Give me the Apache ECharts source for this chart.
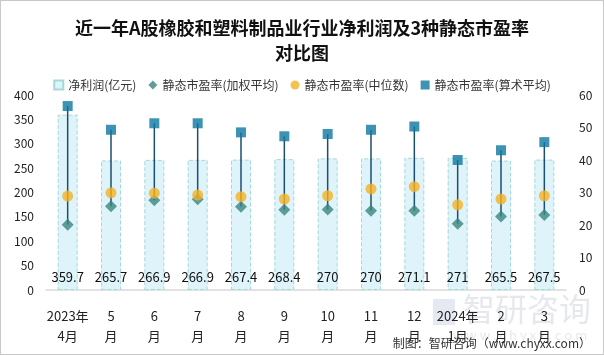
<!DOCTYPE html>
<html><head><meta charset="utf-8">
<script src="https://cdn.jsdelivr.net/npm/echarts@6/dist/echarts.min.js"></script>
<style>html,body{margin:0;padding:0;background:#fff}#c{width:602px;height:353px;border:1px solid #c8c8c8}</style>
</head><body><div id="c"></div>
<script>
var categories = ["2023年\n4月","5\n月","6\n月","7\n月","8\n月","9\n月","10\n月","11\n月","12\n月","2024年\n1月","2\n月","3\n月"];
var netProfit = [359.7,265.7,266.9,266.9,267.4,268.4,270,270,271.1,271,265.5,267.5];
var peWeighted = [20.1,25.8,27.6,27.9,25.6,24.7,24.8,24.4,24.4,20.4,22.6,23.1];
var peMedian = [28.9,29.9,29.8,29.2,28.7,28.0,29.0,31.1,31.8,26.2,28.0,29.0];
var peMean = [56.6,49.3,51.3,51.3,48.5,47.3,48.0,49.3,50.3,40.0,43.0,45.5];

var chart = echarts.init(document.getElementById('c'));
var font = '"Noto Sans CJK SC","Noto Sans",sans-serif';
var rangeData = categories.map(function(c,i){return [i, peWeighted[i], peMean[i]];});
chart.setOption({
  animation:false,
  textStyle:{fontFamily:font},
  title:{text:'近一年A股橡胶和塑料制品业行业净利润及3种静态市盈率\n对比图',left:'center',top:10,
    textStyle:{fontSize:18,fontWeight:'bold',color:'#111',lineHeight:25,fontFamily:font}},
  legend:{top:73,left:'center',itemGap:12,itemWidth:9,itemHeight:9,
    textStyle:{fontSize:12,color:'#333',fontFamily:font},
    data:[{name:'净利润(亿元)',icon:'rect',itemStyle:{borderType:'solid'}},{name:'静态市盈率(加权平均)',icon:'diamond'},{name:'静态市盈率(中位数)',icon:'circle'},{name:'静态市盈率(算术平均)',icon:'rect'}]},
  grid:{left:45,right:37,top:94,bottom:64},
  xAxis:{type:'category',data:categories,axisTick:{show:false},
    axisLine:{lineStyle:{color:'#d9d9d9',width:1.5}},
    axisLabel:{interval:0,fontSize:13,color:'#222',lineHeight:20,margin:16}},
  yAxis:[
    {type:'value',min:0,max:400,interval:50,splitLine:{show:false},axisLine:{show:false},axisTick:{show:false},
      axisLabel:{fontSize:12,color:'#222',margin:12}},
    {type:'value',min:0,max:60,interval:10,splitLine:{show:false},axisLine:{show:false},axisTick:{show:false},
      axisLabel:{fontSize:12,color:'#222',margin:13}}
  ],
  series:[
    {name:'净利润(亿元)',type:'bar',data:netProfit,barWidth:20,
      itemStyle:{color:'#dff4fa',borderColor:'#a3d9d8',borderWidth:1,borderType:'dashed'},
      label:{show:true,position:'insideBottom',distance:6,fontSize:13,color:'#111'}},
    {name:'range',type:'custom',yAxisIndex:1,data:rangeData,z:3,
      renderItem:function(params,api){
        var a=api.coord([api.value(0),api.value(1)]);
        var b=api.coord([api.value(0),api.value(2)]);
        return {type:'line',shape:{x1:a[0],y1:a[1],x2:b[0],y2:b[1]},style:{stroke:'#1b4f6e',lineWidth:1.5}};
      }},
    {name:'静态市盈率(加权平均)',type:'scatter',yAxisIndex:1,data:peWeighted,symbol:'diamond',symbolSize:12,z:5,
      itemStyle:{color:'#3a8580'}},
    {name:'静态市盈率(中位数)',type:'scatter',yAxisIndex:1,data:peMedian,symbol:'circle',symbolSize:11,z:5,
      itemStyle:{color:'#f4b223'}},
    {name:'静态市盈率(算术平均)',type:'scatter',yAxisIndex:1,data:peMean,symbol:'rect',symbolSize:10,z:5,
      itemStyle:{color:'#0e78a3'}}
  ],
  graphic:[
    {type:'text',left:462,top:292,z:0,style:{text:'智研咨询',fontSize:32,fill:'rgba(200,205,215,0.45)',fontFamily:font}},
    {type:'text',left:452,top:328,z:0,style:{text:'w w w . c h y x x . c o m',fontSize:13,fill:'rgba(200,205,215,0.45)',fontFamily:font}},
    {type:'rect',left:432,top:298,z:0,shape:{width:22,height:26},style:{fill:'rgba(190,200,220,0.4)'}},
    {type:'text',right:12,top:336,z:10,style:{text:'制图：智研咨询（www.chyxx.com）',fontSize:12,fill:'#333',fontFamily:font}}
  ]
});
</script></body></html>
